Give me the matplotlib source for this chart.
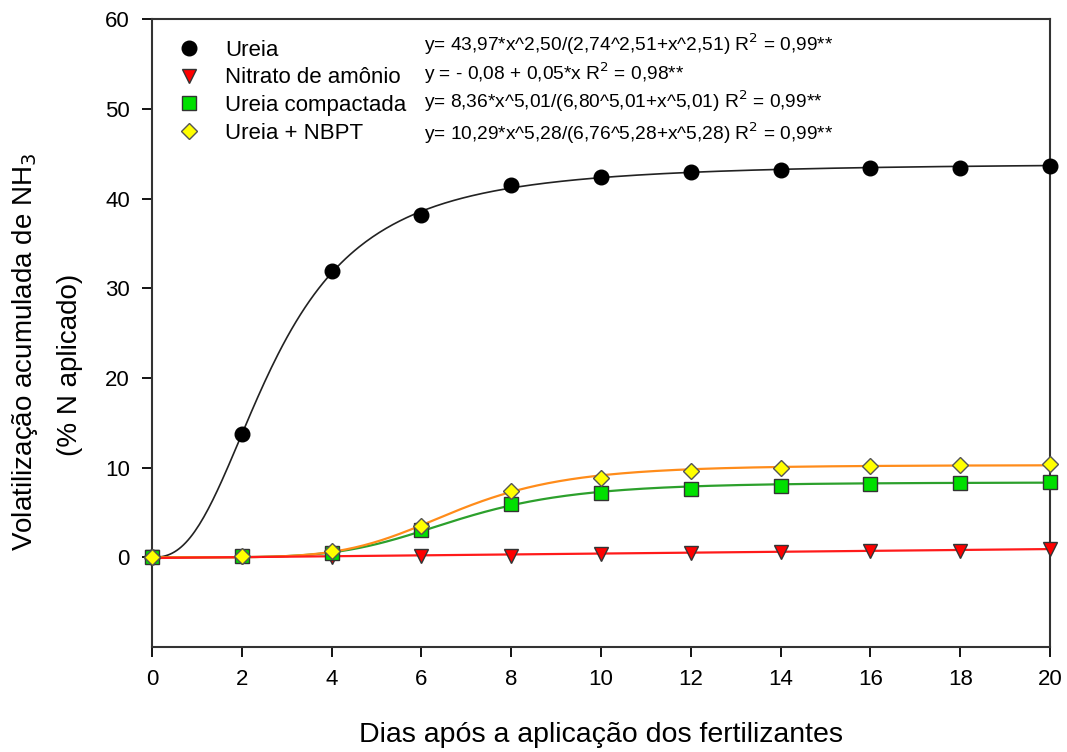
import numpy as np
import matplotlib.pyplot as plt
from matplotlib.lines import Line2D

plt.rcParams['font.family'] = ['Liberation Sans', 'DejaVu Sans']

# dados observados
dias = [0, 2, 4, 6, 8, 10, 12, 14, 16, 18, 20]
ureia = [0, 13.7, 31.9, 38.2, 41.5, 42.4, 42.9, 43.2, 43.4, 43.4, 43.6]
nitrato = [0, 0.0, 0.0, 0.1, 0.2, 0.4, 0.5, 0.6, 0.7, 0.7, 0.9]
compactada = [0, 0.1, 0.5, 3.0, 5.9, 7.2, 7.6, 8.0, 8.2, 8.3, 8.4]
nbpt = [0, 0.2, 0.7, 3.5, 7.4, 8.8, 9.6, 10.0, 10.2, 10.3, 10.4]

# parametros dos modelos ajustados (a, b, c) -> a*x^c/(b^c+x^c)
par_ureia = [43.97, 2.74, 2.51]
par_nitrato = [-0.08, 0.05]
par_compactada = [8.36, 6.80, 5.01]
par_nbpt = [10.29, 6.76, 5.28]

equacoes = [
    r"y= 43,97*x^2,50/(2,74^2,51+x^2,51) R$^2$ = 0,99**",
    r"y = - 0,08 + 0,05*x R$^2$ = 0,98**",
    r"y= 8,36*x^5,01/(6,80^5,01+x^5,01) R$^2$ = 0,99**",
    r"y= 10,29*x^5,28/(6,76^5,28+x^5,28) R$^2$ = 0,99**",
]
nomes = ["Ureia", "Nitrato de amônio", "Ureia compactada", "Ureia + NBPT"]


def sigmoide(x, p):
    a, b, c = p
    return a * x ** c / (b ** c + x ** c)


xx = np.linspace(0, 20, 400)

fig = plt.figure(figsize=(10.67, 7.52), dpi=100)
ax = fig.add_axes([0.1425, 0.1396, 0.8416, 0.835])

ax.plot(xx, sigmoide(xx, par_ureia), color='#222222', lw=1.2, zorder=2)
ax.plot(xx, sigmoide(xx, par_compactada), color='#2ca02c', lw=1.6, zorder=2)
ax.plot(xx, sigmoide(xx, par_nbpt), color='#ff8c1a', lw=1.6, zorder=2)
ax.plot(xx, par_nitrato[0] + par_nitrato[1] * xx, color='#ff1a1a', lw=1.6, zorder=2)

ms = 10.5
ax.plot(dias, ureia, 'o', color='black', mec='black', ms=ms, zorder=3, clip_on=False)
ax.plot(dias, nitrato, 'v', color='#ff0000', mec='#333333', ms=ms, zorder=3, clip_on=False)
ax.plot(dias, compactada, 's', color='#00e000', mec='#333333', ms=ms - 1, zorder=4, clip_on=False)
ax.plot(dias, nbpt, 'D', color='#ffff00', mec='#555555', ms=ms - 2, zorder=5, clip_on=False)

ax.set_xlim(0, 20)
ax.set_ylim(-10, 60)
ax.set_xticks(range(0, 21, 2))
ax.set_yticks(range(0, 61, 10))
ax.tick_params(direction='out', length=7, width=1.3, labelsize=16, pad=9)
for s in ax.spines.values():
    s.set_linewidth(1.5)
    s.set_color('#333333')

fig.text(0.563, 0.0226, "Dias após a aplicação dos fertilizantes", fontsize=20.5,
         ha='center', va='center')
fig.text(0.0234, 0.533, "Volatilização acumulada de NH$_3$", fontsize=20,
         rotation=90, ha='center', va='center')
fig.text(0.0656, 0.515, "(% N aplicado)", fontsize=20,
         rotation=90, ha='center', va='center')

handles = [
    Line2D([], [], ls='none', marker='o', color='black', ms=ms),
    Line2D([], [], ls='none', marker='v', color='#ff0000', mec='#333333', ms=ms),
    Line2D([], [], ls='none', marker='s', color='#00e000', mec='#333333', ms=ms - 1),
    Line2D([], [], ls='none', marker='D', color='#ffff00', mec='#555555', ms=ms - 2),
]
ax.legend(handles, nomes, loc='upper left', bbox_to_anchor=(0.029, 0.967), frameon=False,
          fontsize=16, labelspacing=0.3, handlelength=1.0, handletextpad=1.1,
          borderpad=0, borderaxespad=0)

ypos = [0.960, 0.914, 0.869, 0.818]
for eq, yp in zip(equacoes, ypos):
    ax.text(0.303, yp, eq, transform=ax.transAxes, fontsize=13.8, va='center')

fig.savefig('out.png', dpi=100)
